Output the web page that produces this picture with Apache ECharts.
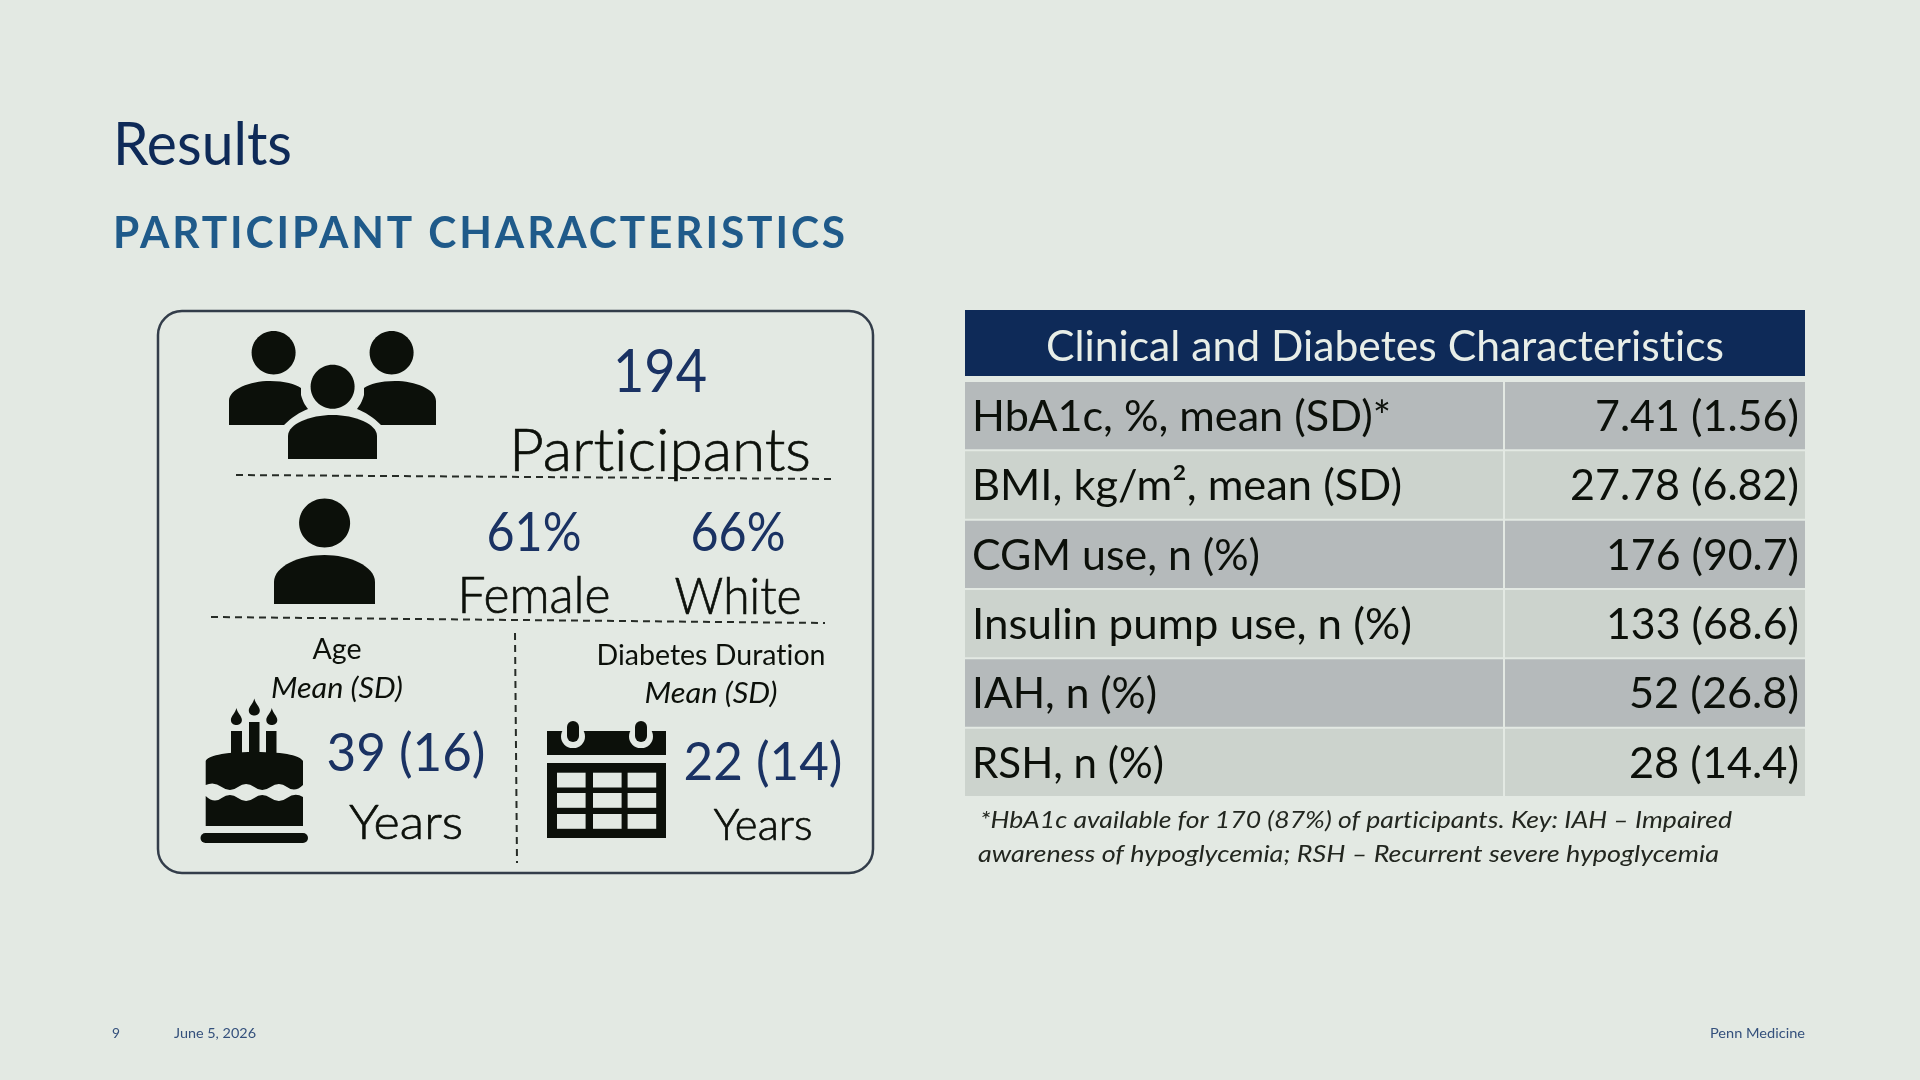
<!DOCTYPE html>
<html><head><meta charset="utf-8">
<style>html,body{margin:0;padding:0;background:#e3e9e3}#c{width:1920px;height:1080px}</style>
<script src="https://cdn.jsdelivr.net/npm/echarts@6/dist/echarts.min.js"></script>
</head><body><div id="c"></div>
<script>
// ---- content ----
const slideTitle = 'Results';
const slideSubtitle = 'PARTICIPANT CHARACTERISTICS';
const tableTitle = 'Clinical and Diabetes Characteristics';
const rowLabels = ['HbA1c, %, mean (SD)*', 'BMI, kg/m², mean (SD)', 'CGM use, n (%)', 'Insulin pump use, n (%)', 'IAH, n (%)', 'RSH, n (%)'];
const rowValues = ['7.41 (1.56)', '27.78 (6.82)', '176 (90.7)', '133 (68.6)', '52 (26.8)', '28 (14.4)'];
const participants = ['194', 'Participants'];
const demographics = [['61%', 'Female'], ['66%', 'White']];
const ageStat = ['Age', 'Mean (SD)', '39 (16)', 'Years'];
const durationStat = ['Diabetes Duration', 'Mean (SD)', '22 (14)', 'Years'];
const footnotes = ['*HbA1c available for 170 (87%) of participants. Key: IAH – Impaired', 'awareness of hypoglycemia; RSH – Recurrent severe hypoglycemia'];
const footer = ['9', 'June 5, 2026', 'Penn Medicine'];

// ---- styling ----
const BG = '#e3e9e3', NAVY = '#0e2a58', BLUE = '#1a3263', INK = '#0c100a', TEAL = '#1f5a8a', FOOT = '#34507c';
const FONT = 'Lato';
const SUBTITLE_SPACING = 3;

// Canvas text tuning that ECharts has no option for: no ligatures, and a tracked-out subtitle.
const nativeFillText = CanvasRenderingContext2D.prototype.fillText;
CanvasRenderingContext2D.prototype.fillText = function (t, x, y, m) {
  this.textRendering = 'optimizeSpeed';
  this.letterSpacing = t === slideSubtitle ? SUBTITLE_SPACING + 'px' : '0px';
  if (m === undefined) nativeFillText.call(this, t, x, y); else nativeFillText.call(this, t, x, y, m);
  this.letterSpacing = '0px';
};

const measure = document.createElement('canvas').getContext('2d');
measure.textRendering = 'optimizeSpeed';
// Text helper: anchor x, baseline y, font size, target width (horizontal fit)
function T(text, x, base, size, width, fill, opt) {
  opt = opt || {};
  const fs = opt.italic ? 'italic' : 'normal', fw = opt.bold ? 'bold' : (opt.light ? '300' : 'normal');
  measure.font = fs + ' ' + fw + ' ' + size + 'px ' + FONT;
  const w = measure.measureText(text).width + text.length * (opt.spacing || 0);
  const style = { text: text, fontFamily: FONT, fontSize: size, fontStyle: fs, fontWeight: fw, fill: fill,
    align: opt.align || 'center', verticalAlign: 'middle' };
  if (opt.light) { style.stroke = fill; style.lineWidth = 0.7; }
  return { type: 'text', x: x, y: base - size * 0.33, scaleX: width ? width / w : 1, silent: true, style: style };
}
const P = (d, fill) => ({ type: 'path', shape: { pathData: d }, style: { fill: fill || INK }, silent: true });
const E = (cx, cy, rx, ry) => ({ type: 'ellipse', shape: { cx, cy, rx, ry }, style: { fill: INK }, silent: true });
const R = (x, y, width, height, fill, r) => ({ type: 'rect', shape: { x, y, width, height, r: r || 0 }, style: { fill: fill || INK }, silent: true });
const L = (x1, y1, x2, y2, dash) => ({ type: 'line', shape: { x1, y1, x2, y2 }, style: { stroke: '#262b26', lineWidth: 2, lineDash: dash }, silent: true });

function flame(x, y) {
  return P(`M${x},${y-9} C${x+1},${y-4} ${x+5.5},${y-1} ${x+5.5},${y+3} C${x+5.5},${y+7} ${x+2},${y+8} ${x},${y+8} C${x-2},${y+8} ${x-5.5},${y+7} ${x-5.5},${y+3} C${x-5.5},${y-1} ${x-1},${y-4} ${x},${y-9} Z`);
}
function icons() {
  const els = [];
  // three people
  els.push(E(273.6, 352.7, 22, 21.7), E(391.6, 352.7, 22, 21.7), E(332.6, 386.7, 22, 22));
  els.push(P('M288,459 L288,436 C288,424 310,415 332.5,415 C355,415 377,424 377,436 L377,459 Z'));
  els.push(P('M229,425 L229,401 C229,389 250,381 270,381 C285,381 295,384 301,388 L301,395 C303,402 305,405 308,409 C300,412 292,417 284,425 Z'));
  els.push(P('M436,425 L436,401 C436,389 415,381 395,381 C380,381 370,384 364,388 L364,395 C362,402 360,405 357,409 C365,412 373,417 381,425 Z'));
  // one person
  els.push(E(324.6, 523, 25.5, 24.5));
  els.push(P('M274,604 L274,582 C274,566 300,555 324.5,555 C349,555 375,566 375,582 L375,604 Z'));
  // cake
  els.push(R(200.5, 833, 107.5, 10, INK, 5));
  els.push(P('M205.7,785 L205.7,761 C208,756 222,752 254,752 C288,752 300,756 303,761 L303,785 Q295,793 287,787 Q279,781 270.6,787 Q262,793 254.3,787 Q246,781 238,787 Q230,793 221.7,787 Q214,781 205.7,785 Z'));
  els.push(P('M205.7,796 Q214,804 221.7,798 Q230,792 238,798 Q246,804 254.3,798 Q262,792 270.6,798 Q279,804 287,798 Q295,792 303,797 L303,826 L205.7,826 Z'));
  els.push(R(231, 731, 11, 22), R(249, 722, 10.5, 31), R(266, 731, 10.5, 22));
  els.push(flame(236.4, 717), flame(254.3, 707.5), flame(271.8, 717));
  // calendar
  els.push(R(547, 731, 119, 24));
  [573, 641].forEach(x => { els.push(R(x - 12, 725, 24, 23, BG, 12), R(x - 6, 721, 12, 21, INK, 6)); });
  els.push(R(547, 763, 119, 75));
  [557, 593, 627.6].forEach(x => [772.7, 793, 814].forEach(y => els.push(R(x, y, 28.6, 14.8, BG))));
  return els;
}
function overlay() {
  const els = [
    T(slideTitle, 113, 165, 60, 179, NAVY, { align: 'left' }),
    T(slideSubtitle, 113, 248, 44, 735, TEAL, { align: 'left', bold: true, spacing: SUBTITLE_SPACING }),
    { type: 'rect', shape: { x: 158, y: 311, width: 715, height: 562, r: 24 }, style: { fill: 'none', stroke: '#333d4a', lineWidth: 2.5 }, silent: true },
    L(236, 475, 835, 479, [7, 5]), L(211, 617, 825, 623, [7, 5]), L(515, 633, 517, 863, [7, 5]),
    T(participants[0], 660, 392, 60, 94, BLUE),
    T(participants[1], 660, 471, 60, 302, INK, { light: true }),
    T(demographics[0][0], 534, 551, 54, 95, BLUE),
    T(demographics[0][1], 534, 613, 52, 153, INK, { light: true }),
    T(demographics[1][0], 738, 551, 54, 95, BLUE),
    T(demographics[1][1], 738, 614, 52, 127, INK, { light: true }),
    T(ageStat[0], 337, 659, 28, 49, INK),
    T(ageStat[1], 337, 698, 29, 132, INK, { italic: true }),
    T(ageStat[2], 406, 771, 52, 159, BLUE),
    T(ageStat[3], 406, 839, 48, 114, INK, { light: true }),
    T(durationStat[0], 711, 665, 29, 229, INK),
    T(durationStat[1], 711, 703, 29, 133, INK, { italic: true }),
    T(durationStat[2], 763, 780, 52, 159, BLUE),
    T(durationStat[3], 763, 840, 43, 99, INK, { light: true }),
    R(965, 310, 840, 66, NAVY),
    T(tableTitle, 1385, 361, 42, 678, '#e8eee8'),
    T(footnotes[0], 980, 828, 24, 752, '#22261f', { align: 'left', italic: true }),
    T(footnotes[1], 978, 862, 24, 741, '#22261f', { align: 'left', italic: true }),
    T(footer[0], 112, 1038, 14, 8, FOOT, { align: 'left' }),
    T(footer[1], 174, 1038, 14, 82, FOOT, { align: 'left' }),
    T(footer[2], 1805, 1038, 14, 95, FOOT, { align: 'right' })
  ];
  return { type: 'group', children: els.concat(icons()) };
}

const labelWidths = [419, 430, 288, 440, 185, 192];
const valueWidths = [204, 229, 193, 193, 170, 170];
const COL = 539 / 840; // column split, as a fraction of the table width

function renderRow(params, api) {
  const i = api.value(1);
  const topLeft = api.coord([0, i]);
  const split = api.coord([COL, i]);
  const right = api.coord([1, i]);
  const band = api.size([0, 1])[1];
  const y = topLeft[1] - band / 2, h = band - 2;
  const fill = i % 2 ? '#ccd3cd' : '#b5babb';
  const base = topLeft[1] + 14.5;
  return { type: 'group', children: [
    R(topLeft[0], y, split[0] - topLeft[0] - 1, h, fill),
    R(split[0] + 1, y, right[0] - split[0] - 1, h, fill),
    T(rowLabels[i], topLeft[0] + 7, base, 43, labelWidths[i], INK, { align: 'left' }),
    T(rowValues[i], right[0] - 6, base, 43, valueWidths[i], INK, { align: 'right' })
  ] };
}

const chart = echarts.init(document.getElementById('c'), null, { renderer: 'canvas' });
chart.setOption({
  animation: false,
  backgroundColor: BG,
  grid: { left: 965, top: 382, width: 840, height: 416 },
  xAxis: { type: 'value', min: 0, max: 1, show: false },
  yAxis: { type: 'category', inverse: true, data: rowLabels, show: false },
  tooltip: { show: false },
  series: [
    { type: 'custom', silent: true, data: rowLabels.map((_, i) => [0, i]), encode: { x: 0, y: 1 }, renderItem: renderRow },
    { type: 'custom', silent: true, coordinateSystem: 'none', data: [[0]], renderItem: overlay }
  ]
});
</script></body></html>
